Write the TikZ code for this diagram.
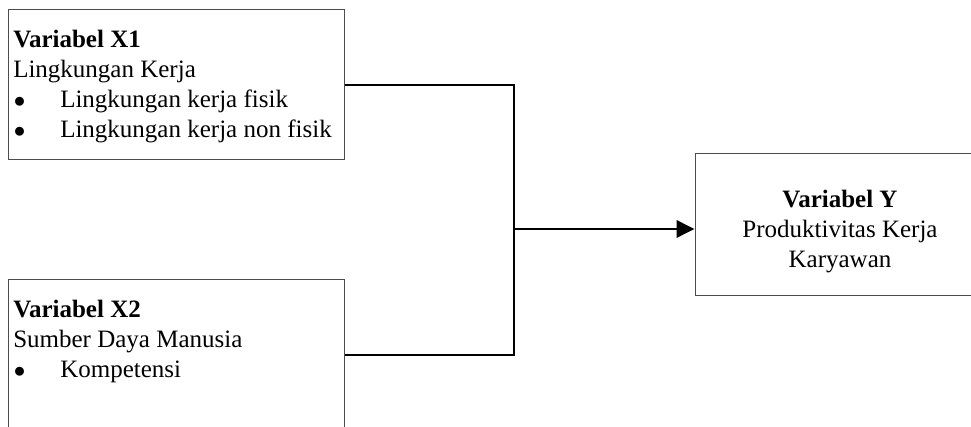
\documentclass[tikz,border=0pt]{standalone}
\usepackage{fontspec}
\setmainfont{Liberation Serif}
\usetikzlibrary{arrows.meta}
\tikzset{
  varbox/.style={draw=black!70, line width=0.75pt, inner sep=0pt, minimum width=#1},
  varbox/.default=252pt,
  vartext/.style={inner sep=0pt, font=\fontsize{18.75}{22.5}\selectfont},
  link/.style={draw=black, line width=1.9pt}
}
\newcommand{\butir}[1]{\makebox[35.25pt][l]{\hspace{0.5pt}$\bullet$}#1}
\begin{document}
\begin{tikzpicture}[x=0.75pt,y=0.75pt,yscale=-1,xscale=1]
\useasboundingbox (0,0) rectangle (971,427);
\clip (0,0) rectangle (971,427);

%Shape: Rectangle [X1]
\node [varbox, minimum height=112.5pt] (x1) at (176,85) {};
%Shape: Rectangle [X2]
\node [varbox, minimum height=112.5pt] (x2) at (176,355) {};
%Shape: Rectangle [Y]
\node [varbox=217.5pt, minimum height=106.5pt] (y) at (840,225) {};

% Text Node
\node [vartext, anchor=base west, align=left] (tx1) at (13,138)
  {\textbf{Variabel X1}\\Lingkungan Kerja\\\butir{Lingkungan kerja fisik}\\\butir{Lingkungan kerja non fisik}};
% Text Node
\node [vartext, anchor=base west, align=left] (tx2) at (13,378)
  {\textbf{Variabel X2}\\Sumber Daya Manusia\\\butir{Kompetensi}};
% Text Node
\node [vartext, anchor=base, align=center] (ty) at (840,268)
  {\textbf{Variabel Y}\\Produktivitas Kerja\\Karyawan};

%Straight Lines
\coordinate (join) at (514,229);
\draw [link] (x1.east) -| (join) |- (x2.east);
\draw [link, -{Triangle[length=13.5pt, width=13pt]}] (join) -- (y.west |- join);
\end{tikzpicture}
\end{document}
